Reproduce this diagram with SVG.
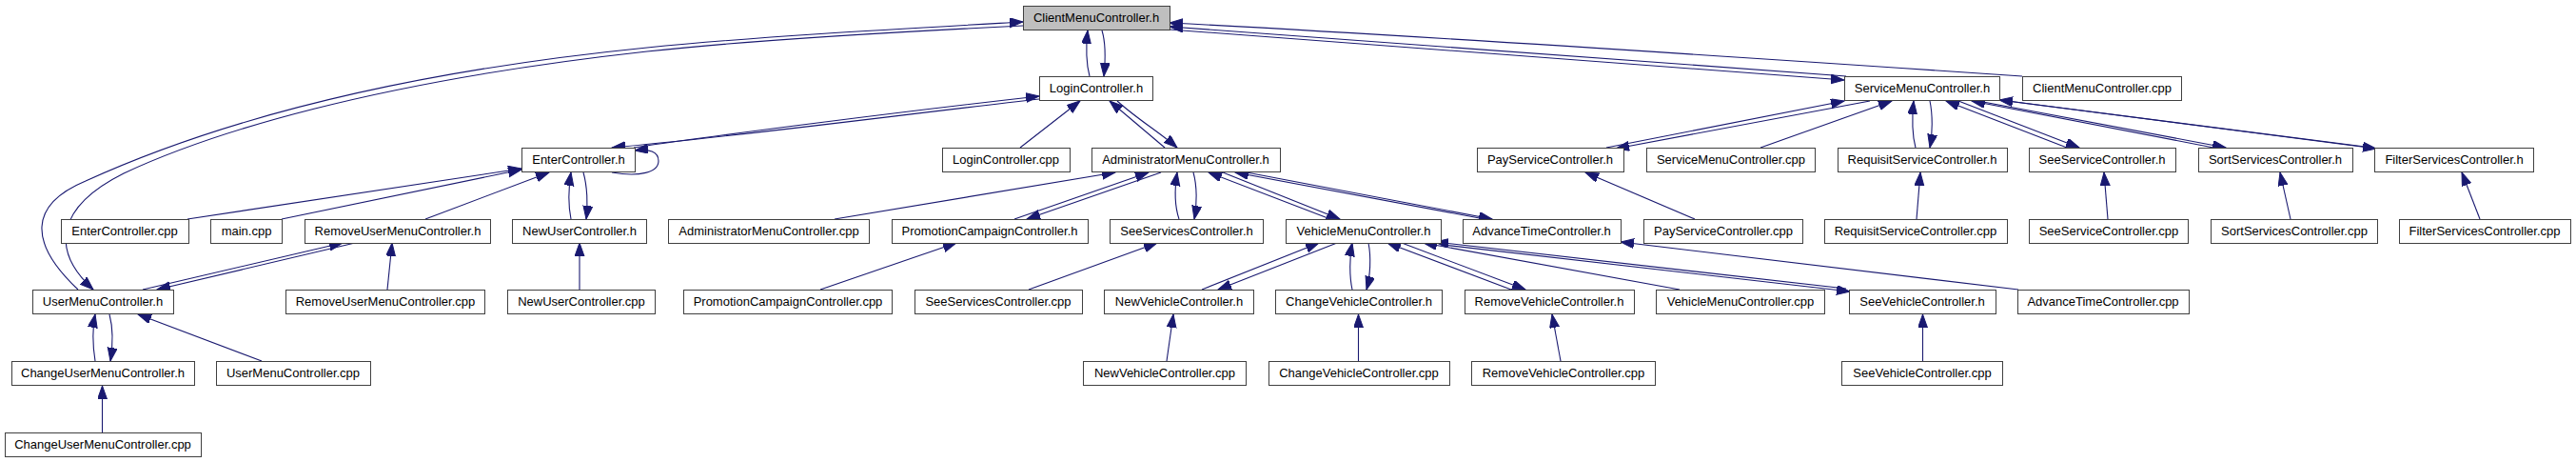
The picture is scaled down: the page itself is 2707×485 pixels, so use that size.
<svg xmlns="http://www.w3.org/2000/svg" width="2707" height="485" viewBox="0 0 2707 485">
<style>
.n rect{fill:#fff;stroke:#404040;stroke-width:1}
.root rect{fill:#bfbfbf}
.n text{font-family:"Liberation Sans",Arial,sans-serif;font-size:13px;fill:#000;text-anchor:middle}
.e path{fill:none;stroke:#191970;stroke-width:1.1;marker-end:url(#a)}
</style>
<defs>
<marker id="a" markerUnits="userSpaceOnUse" markerWidth="15" markerHeight="11" refX="14" refY="5" orient="auto" viewBox="0 0 15 11">
<path d="M0,0 L14,5 L0,10 z" fill="#191970" stroke="#191970" stroke-width="1"/>
</marker>
</defs>
<rect width="2707" height="485" fill="#fff"/>
<g id="connectors" class="e">
<path d="M1145,80 C1141,65 1141,50 1143,32"/>
<path d="M1158,32 C1162,45 1162,60 1160,80"/>
<path d="M82,304 C30,255 30,215 90,190 C200,140 380,80 680,50 C800,38 950,30 1075,23"/>
<path d="M1075,27 C950,33 800,41 680,54 C390,86 220,140 130,182 C60,217 52,262 98,304"/>
<path d="M2125,80 C1800,58 1500,38 1229,24"/>
<path d="M1940,80 L1229,28"/>
<path d="M1229,31 L1938,84"/>
<path d="M1092,104 C950,120 760,145 643,155"/>
<path d="M666,155 C760,141 950,117 1092,101"/>
<path d="M643,181 C672,186 692,181 692,169 C692,159 682,156 667,158"/>
<path d="M1072,155 L1135,106"/>
<path d="M1224,155 L1166,106"/>
<path d="M1174,106 C1195,125 1220,140 1237,155"/>
<path d="M877,230 L1172,181"/>
<path d="M1066,230 L1207,181"/>
<path d="M1220,181 L1079,230"/>
<path d="M1239,230 C1234,215 1234,200 1237,181"/>
<path d="M1254,181 C1258,195 1258,215 1255,230"/>
<path d="M1398,230 L1270,181"/>
<path d="M1285,181 L1408,230"/>
<path d="M1560,230 L1298,181"/>
<path d="M1310,181 L1568,230"/>
<path d="M600,230 C597,215 597,200 600,181"/>
<path d="M613,181 C617,195 618,215 616,230"/>
<path d="M197,230 L548,177"/>
<path d="M296,230 L548,178"/>
<path d="M447,230 L577,181"/>
<path d="M609,304 L609,255"/>
<path d="M150,304 L360,255"/>
<path d="M373,255 L165,304"/>
<path d="M407,304 L412,255"/>
<path d="M100,379 C97,360 97,345 100,330"/>
<path d="M115,330 C119,345 119,360 116,379"/>
<path d="M275,379 L145,330"/>
<path d="M107.5,454 L107.5,405"/>
<path d="M862,304 L1005,255"/>
<path d="M1081,304 L1216,255"/>
<path d="M1263,304 L1386,255"/>
<path d="M1405,255 L1280,304"/>
<path d="M1421,304 C1418,290 1418,270 1421,255"/>
<path d="M1438,255 C1441,270 1440,290 1436,304"/>
<path d="M1588,304 L1458,255"/>
<path d="M1473,255 L1603,304"/>
<path d="M1765,304 L1496,255"/>
<path d="M1940,303 L1508,254"/>
<path d="M1516,257 L1944,306"/>
<path d="M2121,304 L1703,254"/>
<path d="M1226,379 L1233,330"/>
<path d="M1427.5,379 L1427.5,330"/>
<path d="M1640,379 L1631,330"/>
<path d="M2020.5,379 L2020.5,330"/>
<path d="M1688,155 L1938,106"/>
<path d="M1965,106 L1698,156"/>
<path d="M1850,155 L1988,106"/>
<path d="M2013,155 C2009,140 2009,125 2011,106"/>
<path d="M2028,106 C2031,120 2031,140 2028,155"/>
<path d="M2014,230 L2018,181"/>
<path d="M1781,230 L1666,181"/>
<path d="M2172,155 L2045,106"/>
<path d="M2058,106 L2185,155"/>
<path d="M2326,155 L2072,106"/>
<path d="M2084,107 L2339,155"/>
<path d="M2493,155 L2101,105"/>
<path d="M2110,106 L2497,156"/>
<path d="M2215,230 L2211,181"/>
<path d="M2407,230 L2396,181"/>
<path d="M2606,230 L2587,181"/>
</g>
<g id="ClientMenuController_h" class="n root"><rect x="1075.5" y="6.5" width="154" height="25"/><text x="1152" y="23">ClientMenuController.h</text></g>
<g id="LoginController_h" class="n"><rect x="1092.5" y="80.5" width="119" height="25"/><text x="1152" y="97">LoginController.h</text></g>
<g id="ServiceMenuController_h" class="n"><rect x="1938.5" y="80.5" width="163" height="25"/><text x="2020" y="97">ServiceMenuController.h</text></g>
<g id="ClientMenuController_cpp" class="n"><rect x="2125.5" y="80.5" width="167" height="25"/><text x="2209" y="97">ClientMenuController.cpp</text></g>
<g id="EnterController_h" class="n"><rect x="548.5" y="155.5" width="119" height="25"/><text x="608" y="172">EnterController.h</text></g>
<g id="LoginController_cpp" class="n"><rect x="990.5" y="155.5" width="134" height="25"/><text x="1057" y="172">LoginController.cpp</text></g>
<g id="AdministratorMenuController_h" class="n"><rect x="1147.5" y="155.5" width="198" height="25"/><text x="1246" y="172">AdministratorMenuController.h</text></g>
<g id="PayServiceController_h" class="n"><rect x="1552.5" y="155.5" width="154" height="25"/><text x="1629" y="172">PayServiceController.h</text></g>
<g id="ServiceMenuController_cpp" class="n"><rect x="1730.5" y="155.5" width="177" height="25"/><text x="1819" y="172">ServiceMenuController.cpp</text></g>
<g id="RequisitServiceController_h" class="n"><rect x="1931.5" y="155.5" width="178" height="25"/><text x="2020" y="172">RequisitServiceController.h</text></g>
<g id="SeeServiceController_h" class="n"><rect x="2132.5" y="155.5" width="154" height="25"/><text x="2209" y="172">SeeServiceController.h</text></g>
<g id="SortServicesController_h" class="n"><rect x="2310.5" y="155.5" width="162" height="25"/><text x="2391" y="172">SortServicesController.h</text></g>
<g id="FilterServicesController_h" class="n"><rect x="2495.5" y="155.5" width="167" height="25"/><text x="2579" y="172">FilterServicesController.h</text></g>
<g id="EnterController_cpp" class="n"><rect x="64.5" y="230.5" width="134" height="25"/><text x="131" y="247">EnterController.cpp</text></g>
<g id="main_cpp" class="n"><rect x="221.5" y="230.5" width="75" height="25"/><text x="259" y="247">main.cpp</text></g>
<g id="RemoveUserMenuController_h" class="n"><rect x="320.5" y="230.5" width="195" height="25"/><text x="418" y="247">RemoveUserMenuController.h</text></g>
<g id="NewUserController_h" class="n"><rect x="538.5" y="230.5" width="141" height="25"/><text x="609" y="247">NewUserController.h</text></g>
<g id="AdministratorMenuController_cpp" class="n"><rect x="702.5" y="230.5" width="211" height="25"/><text x="808" y="247">AdministratorMenuController.cpp</text></g>
<g id="PromotionCampaignController_h" class="n"><rect x="937.5" y="230.5" width="206" height="25"/><text x="1040" y="247">PromotionCampaignController.h</text></g>
<g id="SeeServicesController_h" class="n"><rect x="1166.5" y="230.5" width="161" height="25"/><text x="1247" y="247">SeeServicesController.h</text></g>
<g id="VehicleMenuController_h" class="n"><rect x="1351.5" y="230.5" width="163" height="25"/><text x="1433" y="247">VehicleMenuController.h</text></g>
<g id="AdvanceTimeController_h" class="n"><rect x="1537.5" y="230.5" width="166" height="25"/><text x="1620" y="247">AdvanceTimeController.h</text></g>
<g id="PayServiceController_cpp" class="n"><rect x="1727.5" y="230.5" width="167" height="25"/><text x="1811" y="247">PayServiceController.cpp</text></g>
<g id="RequisitServiceController_cpp" class="n"><rect x="1917.5" y="230.5" width="192" height="25"/><text x="2013" y="247">RequisitServiceController.cpp</text></g>
<g id="SeeServiceController_cpp" class="n"><rect x="2132.5" y="230.5" width="167" height="25"/><text x="2216" y="247">SeeServiceController.cpp</text></g>
<g id="SortServicesController_cpp" class="n"><rect x="2323.5" y="230.5" width="175" height="25"/><text x="2411" y="247">SortServicesController.cpp</text></g>
<g id="FilterServicesController_cpp" class="n"><rect x="2521.5" y="230.5" width="180" height="25"/><text x="2611" y="247">FilterServicesController.cpp</text></g>
<g id="UserMenuController_h" class="n"><rect x="34.5" y="304.5" width="148" height="25"/><text x="108" y="321">UserMenuController.h</text></g>
<g id="RemoveUserMenuController_cpp" class="n"><rect x="300.5" y="304.5" width="209" height="25"/><text x="405" y="321">RemoveUserMenuController.cpp</text></g>
<g id="NewUserController_cpp" class="n"><rect x="533.5" y="304.5" width="155" height="25"/><text x="611" y="321">NewUserController.cpp</text></g>
<g id="PromotionCampaignController_cpp" class="n"><rect x="718.5" y="304.5" width="219" height="25"/><text x="828" y="321">PromotionCampaignController.cpp</text></g>
<g id="SeeServicesController_cpp" class="n"><rect x="961.5" y="304.5" width="176" height="25"/><text x="1049" y="321">SeeServicesController.cpp</text></g>
<g id="NewVehicleController_h" class="n"><rect x="1160.5" y="304.5" width="157" height="25"/><text x="1239" y="321">NewVehicleController.h</text></g>
<g id="ChangeVehicleController_h" class="n"><rect x="1340.5" y="304.5" width="175" height="25"/><text x="1428" y="321">ChangeVehicleController.h</text></g>
<g id="RemoveVehicleController_h" class="n"><rect x="1539.5" y="304.5" width="178" height="25"/><text x="1628" y="321">RemoveVehicleController.h</text></g>
<g id="VehicleMenuController_cpp" class="n"><rect x="1740.5" y="304.5" width="177" height="25"/><text x="1829" y="321">VehicleMenuController.cpp</text></g>
<g id="SeeVehicleController_h" class="n"><rect x="1943.5" y="304.5" width="154" height="25"/><text x="2020" y="321">SeeVehicleController.h</text></g>
<g id="AdvanceTimeController_cpp" class="n"><rect x="2120.5" y="304.5" width="180" height="25"/><text x="2210" y="321">AdvanceTimeController.cpp</text></g>
<g id="ChangeUserMenuController_h" class="n"><rect x="12.5" y="379.5" width="192" height="25"/><text x="108" y="396">ChangeUserMenuController.h</text></g>
<g id="UserMenuController_cpp" class="n"><rect x="227.5" y="379.5" width="162" height="25"/><text x="308" y="396">UserMenuController.cpp</text></g>
<g id="NewVehicleController_cpp" class="n"><rect x="1138.5" y="379.5" width="171" height="25"/><text x="1224" y="396">NewVehicleController.cpp</text></g>
<g id="ChangeVehicleController_cpp" class="n"><rect x="1333.5" y="379.5" width="190" height="25"/><text x="1428" y="396">ChangeVehicleController.cpp</text></g>
<g id="RemoveVehicleController_cpp" class="n"><rect x="1546.5" y="379.5" width="193" height="25"/><text x="1643" y="396">RemoveVehicleController.cpp</text></g>
<g id="SeeVehicleController_cpp" class="n"><rect x="1935.5" y="379.5" width="169" height="25"/><text x="2020" y="396">SeeVehicleController.cpp</text></g>
<g id="ChangeUserMenuController_cpp" class="n"><rect x="5.5" y="454.5" width="206" height="25"/><text x="108" y="471">ChangeUserMenuController.cpp</text></g>
</svg>
